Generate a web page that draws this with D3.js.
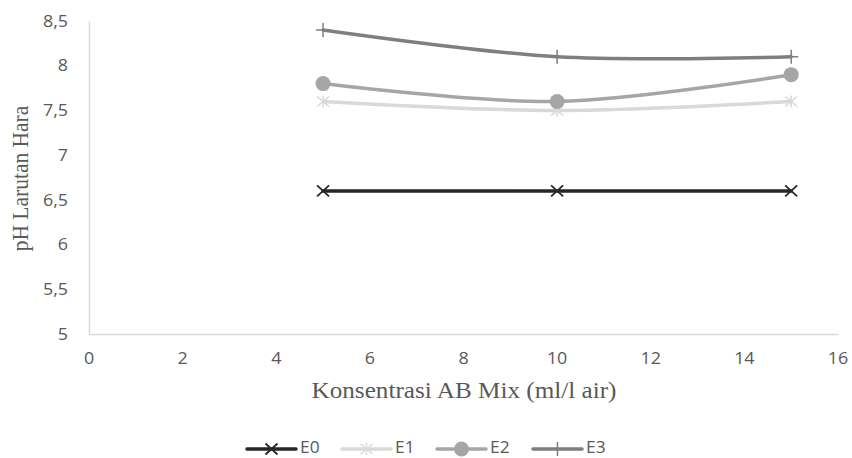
<!DOCTYPE html>
<html>
<head>
<meta charset="utf-8">
<script src="https://cdn.jsdelivr.net/npm/d3@7"></script>
<style>
  html, body { margin: 0; padding: 0; background: #fff; }
  svg { display: block; }
</style>
</head>
<body>
<svg id="chart" width="852" height="458"></svg>
<script>
// Concentrations of AB Mix (ml/l water) and the measured pH per treatment
const concentrations = [5, 10, 15];
const seriesNames = ["E0", "E1", "E2", "E3"];
const valuesE0 = [6.6, 6.6, 6.6];
const valuesE1 = [7.6, 7.5, 7.6];
const valuesE2 = [7.8, 7.6, 7.9];
const valuesE3 = [8.4, 8.1, 8.1];
const xTicks = [0, 2, 4, 6, 8, 10, 12, 14, 16];
const yTicks = [5, 5.5, 6, 6.5, 7, 7.5, 8, 8.5];

const seriesValues = [valuesE0, valuesE1, valuesE2, valuesE3];
const colors = { E0: "#262626", E1: "#d9d9d9", E2: "#a6a6a6", E3: "#7f7f7f" };
const markers = { E0: "x", E1: "star", E2: "circle", E3: "plus" };

const svg = d3.select("#chart");
const x = d3.scaleLinear().domain([0, 16]).range([89, 838]);
const y = d3.scaleLinear().domain([5, 8.5]).range([334, 21]);

const fmt = v => String(v).replace(".", ",");
const tickFont = "'Open Sans', 'Noto Sans', sans-serif";
const titleFont = "'Liberation Serif', 'Times New Roman', serif";
const textColor = "#595959";
const stretch = 1.12; // text is drawn slightly wide

// Place a horizontally widened label
function wideText(parent, px, py, anchor, str, font, size, extra) {
  const t = parent.append("text")
    .attr("transform", `translate(${px},${py}) scale(${stretch},1)${extra || ""}`)
    .attr("text-anchor", anchor)
    .attr("fill", textColor)
    .style("font-family", font)
    .style("font-size", size + "px")
    .text(str);
  return t;
}

// Axis lines
const yAxis = d3.axisLeft(y).tickValues(yTicks).tickFormat("").tickSize(0);
const gy = svg.append("g").attr("transform", `translate(${x(0)},0)`).call(yAxis);
gy.select(".domain").attr("stroke", "#d9d9d9").attr("stroke-width", 1.5);

const xAxis = d3.axisBottom(x).tickValues(xTicks).tickFormat("").tickSize(0);
const gx = svg.append("g").attr("transform", `translate(0,${y(5)})`).call(xAxis);
gx.select(".domain").attr("stroke", "#d9d9d9").attr("stroke-width", 1.5);

// Tick labels
yTicks.forEach(v => {
  wideText(svg, 68, y(v), "end", fmt(v), tickFont, 16).attr("dy", "0.36em");
});
xTicks.forEach(v => {
  wideText(svg, x(v), 358, "middle", fmt(v), tickFont, 16).attr("dy", "0.36em");
});

// Axis titles
wideText(svg, 28, (y(5) + y(8.5)) / 2 + 1, "middle", "pH Larutan Hara", titleFont, 21.5, " rotate(-90)");
wideText(svg, 464, 398, "middle", "Konsentrasi AB Mix (ml/l air)", titleFont, 22.5);

// Marker drawing
function drawMarker(g, type, color) {
  if (type === "x") {
    g.append("path").attr("d", "M-6,-5.5L6,5.5M-6,5.5L6,-5.5").attr("stroke", color).attr("stroke-width", 1.8).attr("fill", "none");
  } else if (type === "star") {
    g.append("path").attr("d", "M-6,-5L6,5M-6,5L6,-5M0,-6L0,6").attr("stroke", color).attr("stroke-width", 1.5).attr("fill", "none");
  } else if (type === "circle") {
    g.append("circle").attr("r", 7.5).attr("fill", color);
  } else if (type === "plus") {
    g.append("path").attr("d", "M-7,0L7,0M0,-7L0,7").attr("stroke", color).attr("stroke-width", 1.5).attr("fill", "none");
  }
}

const line = d3.line()
  .x(d => x(d[0]))
  .y(d => y(d[1]))
  .curve(d3.curveCatmullRom.alpha(0.5));

seriesNames.forEach((name, i) => {
  const pts = concentrations.map((c, j) => [c, seriesValues[i][j]]);
  svg.append("path")
    .datum(pts)
    .attr("d", line)
    .attr("fill", "none")
    .attr("stroke", colors[name])
    .attr("stroke-width", 3.5)
    .attr("stroke-linecap", "round");
  pts.forEach(p => {
    const g = svg.append("g").attr("transform", `translate(${x(p[0])},${y(p[1])})`);
    drawMarker(g, markers[name], colors[name]);
  });
});

// Legend
const legendX = [247, 342, 437, 533];
const legendY = 449;
seriesNames.forEach((name, i) => {
  const lg = svg.append("g").attr("transform", `translate(${legendX[i]},${legendY})`);
  lg.append("line").attr("x1", 0).attr("x2", 49).attr("y1", 0).attr("y2", 0)
    .attr("stroke", colors[name]).attr("stroke-width", 3.5).attr("stroke-linecap", "round");
  const m = lg.append("g").attr("transform", "translate(24.5,0)");
  drawMarker(m, markers[name], colors[name]);
  wideText(lg, 53, 4.2, "start", name, tickFont, 15.5);
});
</script>
</body>
</html>
